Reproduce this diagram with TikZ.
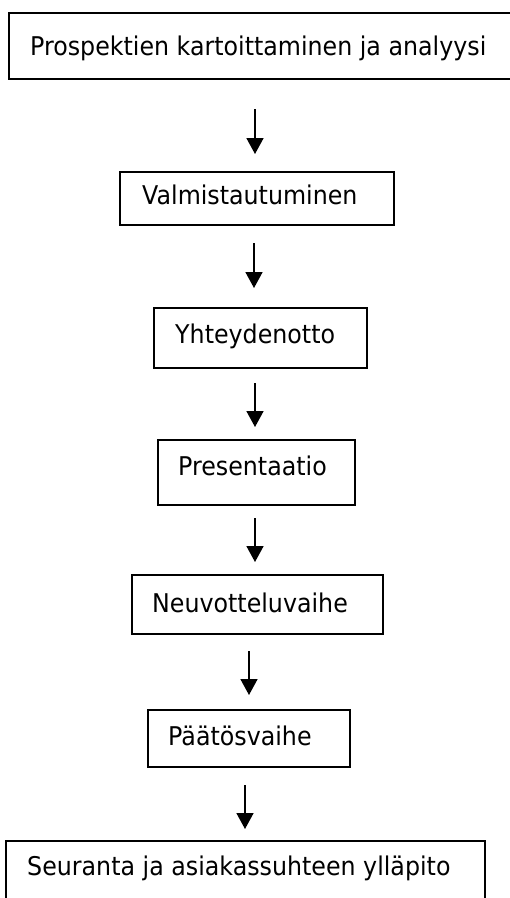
\documentclass[tikz,border=0pt]{standalone}
\usepackage{fontspec}
\setmainfont{DejaVu Sans}[FakeStretch=0.92]
\usetikzlibrary{arrows.meta}
\begin{document}
\begin{tikzpicture}[x=1pt,y=-1pt,
  stagebox/.style={draw=black,line width=1.6pt,rectangle,inner sep=0pt,anchor=north west},
  stagetext/.style={anchor=base west,inner sep=0pt,font=\fontsize{25.8}{30}\selectfont},
  flow/.style={draw=black,line width=1.6pt,-{Triangle[width=17pt,length=16pt]}}]
\useasboundingbox (0,0) rectangle (510,898);
\clip (0,0) rectangle (510,898);
% stage boxes (top-left corner, size)
\node[stagebox,minimum width=510pt,minimum height=66pt] (b1) at (8,12) {};
\node[stagebox,minimum width=274pt,minimum height=53pt] (b2) at (119,171) {};
\node[stagebox,minimum width=213pt,minimum height=60pt] (b3) at (153,307) {};
\node[stagebox,minimum width=197pt,minimum height=65pt] (b4) at (157,439) {};
\node[stagebox,minimum width=251pt,minimum height=59pt] (b5) at (131,574) {};
\node[stagebox,minimum width=202pt,minimum height=57pt] (b6) at (147,709) {};
\node[stagebox,minimum width=479pt,minimum height=70pt] (b7) at (5,840) {};
% stage labels
\node[stagetext] (t1) at (30,55) {Prospektien kartoittaminen ja analyysi};
\node[stagetext] (t2) at (142,204) {Valmistautuminen};
\node[stagetext] (t3) at (175,343) {Yhteydenotto};
\node[stagetext] (t4) at (178,475) {Presentaatio};
\node[stagetext] (t5) at (152,612) {Neuvotteluvaihe};
\node[stagetext] (t6) at (168,745) {Päätösvaihe};
\node[stagetext] (t7) at (27,875) {Seuranta ja asiakassuhteen ylläpito};
% arrow ends
\coordinate (a1s) at (255,109); \coordinate (a1e) at (255,154);
\coordinate (a2s) at (254,243); \coordinate (a2e) at (254,288);
\coordinate (a3s) at (255,383); \coordinate (a3e) at (255,427);
\coordinate (a4s) at (255,518); \coordinate (a4e) at (255,562);
\coordinate (a5s) at (249,651); \coordinate (a5e) at (249,695);
\coordinate (a6s) at (245,785); \coordinate (a6e) at (245,829);
\draw[flow] (a1s) -- (a1e);
\draw[flow] (a2s) -- (a2e);
\draw[flow] (a3s) -- (a3e);
\draw[flow] (a4s) -- (a4e);
\draw[flow] (a5s) -- (a5e);
\draw[flow] (a6s) -- (a6e);
\end{tikzpicture}
\end{document}
